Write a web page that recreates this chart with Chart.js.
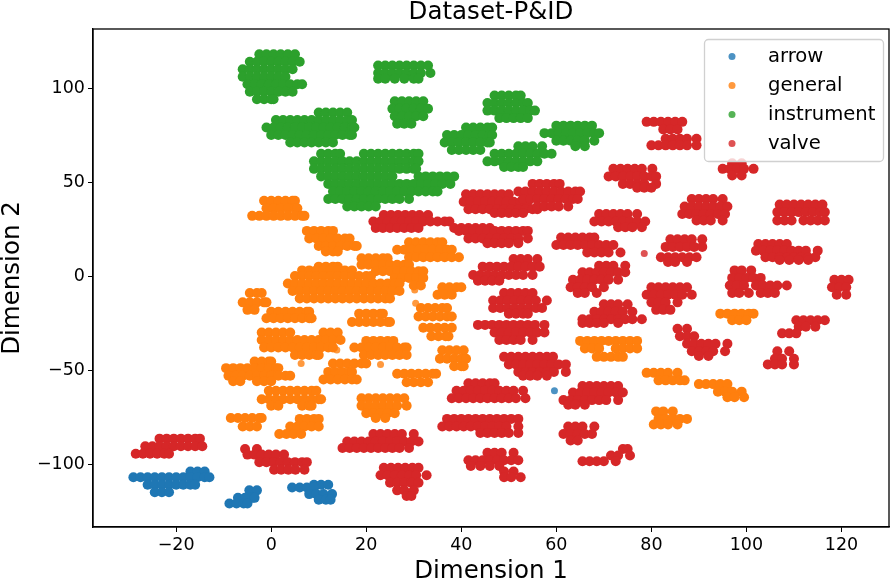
<!DOCTYPE html>
<html>
<head>
<meta charset="utf-8">
<script src="https://cdn.jsdelivr.net/npm/chart.js@4"></script>
<style>
  html, body { margin: 0; background: #fff; }
</style>
</head>
<body>
<canvas id="chart" width="894" height="584"></canvas>
<script>
// Each row is [dimension 2, then the dimension 1 values on that row]
const classNames = ["arrow", "general", "instrument", "valve"];
const classColors = ["#1f77b4", "#ff7f0e", "#2ca02c", "#d62728"];
const classFaded = ["rgba(31,119,180,0.8)", "rgba(255,127,14,0.8)", "rgba(44,160,44,0.8)", "rgba(214,39,40,0.8)"];

const arrowRows = [
  [-104,-17,-15.5,-14],
  [-107,-29,-27.5,-26,-24.5,-23,-21.5,-20,-18.5,-17,-15.5,-14,-13],
  [-111,-26,-24.5,-23,-21.5,-20,-18.5,-17,-16],
  [-115,-24.5,-23,-21.5],
  [-114,-4.6,-3],[-118,-7,-5.5,-4,-3.5],[-121,-8.8,-7.3,-5.8,-5],
  [-111,9,10.5,12],[-112.5,4.4,6,7.5,9],[-116,8,9.5,11,12.8],[-119,10,11.5,12.5]
];
const arrowStray = [[59.6,-61]];

const generalRows = [
  [40,-1.5,0,1.5,3,4.5,5],[36,-1,0.5,2,3.5,5,5.5],[32,-4,-2.5,-1,0.5,2,3.5,5,6.5,7],
  [24,7.5,9,10.5,12,13],[20,8,9.5,11,12.5,14,15.5,16.5],[16,10,11.5,13,14.5,16,17.5,18],[13,11.5,13,14],
  [18,29,30.5,32,33.5,35,36],[14,26.5,28,29.5,31,32.5,34,35.5,37,38],[10,29,30.5,32,33.5,35,36.5,38,39.5],
  [9.5,19,20.5,22,23.5,24.5],[6,19,20.5,22,23.5,25,26.5,28,29],[2.5,22,23.5,25,26.5,28,29.5,31,32],[-1,26,27.5,29,30.5,32],[-5,30,31.5],
  [5,10,11.5,13,14],[3,6.5,8,9.5,11,12.5,14,15.5,17],[0,5,6.5,8,9.5,11,12.5,14,15.5,17,18.5,20,21],
  [-4,3.5,5,6.5,8,9.5,11,12.5,14,15.5,17,18.5,20,21.5,23,24.5,26,27],
  [-8,4.5,6,7.5,9,10.5,12,13.5,15,16.5,18,19.5,21,22.5,24,25.5,27],
  [-12,6,7.5,9,10.5,12,13.5,15,16.5,18,19.5,21,22.5,24,25],
  [-6,36,37.5,39,40],[-10,35,36.5,38],
  [-9,-4.5,-3,-2],[-14,-6,-4.5,-3,-1.5,-1],[-18,-5,-3.5],
  [-19,0,1.5,3,4.5,6,7.5,8],[-22.5,-1,0.5,2,3.5,5,6.5,8,8.5],
  [-20,18.5,20,21.5,23,23.5],[-24.5,17,18.5,20,21.5,23,24.5,25],
  [-17,31.5,33,34.5,36,37],[-21.5,31,32.5,34,35.5,37,38],
  [-27.5,32,33.5,35,36.5,38],[-32,33.7,35.2,36.7,37.3],
  [-30,-2,-0.5,1,2.5,4,11,12.5,14],[-34,-2,-0.5,1,2.5,4,5.5,7,8.5,10,11.5,13,14.6],[-38,-1.5,0,1.5,3,4.5,6,7.5,9,10.5,12,13],[-42,5,6.5,8,9.5,10],
  [-34.5,20,21.5,23,24.5,25.7],[-38,17.5,19,20.5,22,23.5,25,26.5,28,28.5],[-42,19.5,21,22.5,24,25.5,27,28.5],
  [-39.5,36,37.5,39,40.5],[-44,35.5,37,38.5,40,41],[-48,38.5,40,40.5],
  [-45.5,-3.5,-2,-0.5,0],[-49,-9.5,-8,-6.5,-5,-3.5,-2,-0.5,1,1.5],[-53,-9,-7.5,-6,-4.5,-3,-1.5,0,1.5,3,4],[-56,-8,-6.5,-3,-1.5,0],
  [-46.5,13,14.5,16,17.5,19,20],[-51,12,13.5,15,16.5,17],[-55,11,12.5,14,15.5,17,18],
  [-52,26.5,28,29.5,31,32.5,34,34.7],[-56.5,28.5,30,31.5,33],
  [-61,-0.5,1,2.5,4,5.5,7,8.5,9.5],[-65.5,-2,-0.5,1,2.5,4,5.5,7,8.5,10,10.5],[-69,0,1.5,6.5,8,8.5],
  [-65,19,20.5,22,23.5,25,26.5,28],[-69,19,20.5,22,23.5,25,26.5,28.5],[-73,20,21.5,23,24.5,26],[-75.5,22,24],
  [-75.5,-8.5,-7,-5.5,-4,-2.5,-2],[-80,-6,-4.5,-3],
  [-76,6,7.5,9,10],[-80,4,5.5,7,8.5,10],[-84,1.7,3.2,4.7,6.3],
  [-34.5,65,66.5,68,69.5,71,72.5,74,75.5,77],[-38.5,66,67.5,69,72.5,74,75.5,77],[-43,68.5,70,71.5,73,74],
  [-20,94.5,96,97.5,99,100.5,101.5],[-23.5,97,98.5,100],
  [-51.5,79,80.5,82,83.5,85.5],[-55.5,81.5,83,84.5,86,87],
  [-57.5,90,91.5,93,94.5,96],[-61.5,94,95.5,97,99],[-64.5,96,97.5,99.5],
  [-72,81,82.5,84.5],[-76,81.5,83,84.5,86,87.5],[-79,80.5,82,83.5,85.5]
];
const generalStray = [[30.2,-7.4],[30.4,-14.5],[13.8,-39.4],[6.3,-46.5],[23,-47]];

const instrumentRows = [
  [118,-2.5,-1,0.5,2,3.5,5],[114,-4.5,-3,-1.5,0,1.5,3,4.5,6],[110,-6,-4.5,-3,-1.5,0,1.5,3,4.5],[106,-6,-4.5,-3,-1.5,0,1.5,3],
  [102,-5,-3.5,-2,-0.5,1,2.5,4,5.5,6.5],[98,-4.5,-3,-1.5,0,1.5,3,4.5],[94,-3,-1.5,0,0.5],
  [112,22.5,24,25.5,27,28.5,30,31.5,33],[108,22.5,24,25.5,27,28.5,30,31.5,33.5],[105,22.5,24,26,28,30,31],
  [93,26,27.5,29,30.5,32],[89,25.5,27,28.5,30,31.5,33],[85,26,27.5,29,30.5,32],[81,26.5,28,29.5],
  [87,10,11.5,13,14.5,16],[83,1,2.5,4,5.5,7,8.5,10,11.5,13,14.5,16,17],[79,-1,0.5,2,3.5,5,6.5,8,9.5,11,12.5,14,15.5,17,17.5],
  [75,0,1.5,3,4.5,6,7.5,9,10.5,12,13.5,15,16.5,17],[71,4,5.5,7,8.5,10,11.5,13],
  [65,10.5,12,13.5,14.5,19.5,21,22.5,24,25.5,27,28.5,30,31],
  [61,9,10.5,12,13.5,15,16.5,18,19.5,21,22.5,24,25.5,27,28.5,30,31],
  [57,9,10.5,12,13.5,15,16.5,18,19.5,21,22.5,24,25.5,27,28.5,30,30.5],
  [53,10.5,12,13.5,15,16.5,18,19.5,21,22.5,24,25.5,31,32.5,34,35.5,37,38.5],
  [49,12,13.5,15,16.5,18,19.5,21,22.5,24,25.5,27,28.5,30,31.5,33,34.5,36,37.7],
  [45,13,14.5,16,17.5,19,20.5,22,23.5,25,26.5,28,29.5,31,32.5,34,35],
  [41,12,13.5,15,16.5,18,19.5,21,22.5,24,25.5,27,29],[37,16,17.5,19,20.5,22],
  [79,41,42.5,44,45.5,46.5],[75,37,38.5,40,41.5,43,44.5,46,46.5],[71,36.5,38,39.5,41,42.5,44,45.5,46],[67,38,39.5,41,42.5,44],
  [96,47,48.5,50,51.5,52.5],[92,45.5,47,48.5,50,51.5,53,54],[88,45.5,47,48.5,50,51.5,53,54.5,55.5],[84,48,49.5,51,52.5,54],
  [69,52,53.5,55,57],[65,47,48.5,50,51.5,53,54.5,56,57.5,59],[61,45.5,47,48.5,50,51.5,53,54.5,56],[58,49,50.5,52,53],
  [80,60,61.5,63,64.5,66,67.5],[76,57.5,59,60.5,62,63.5,65,66.5,68,69],[72,60,61.5,63,64.5,66,68],[69,64,66]
];

const valveRows = [
  [32.5,23.7,25.2,26.7,28.2,29.7,31.2,33],[29,21.5,23,24.5,26,27.5,29,30.5,32,33.5,35,36.5,37.5],
  [25.5,22,23.5,25,26.5,28,29.5,31,38.5,40,41.5,43,44.5,46],[24,39.5,41,42.5,44,45.5,47,48.5,50,51.5,53,54],
  [20,41.5,43,44.5,46,47.5,49,50.5,52,54],[17.5,45.5,47,48.5,50,52],
  [43.5,41,42.5,44,45.5,47,48.5,50],[39.5,40.5,42,43.5,45,46.5,48,49.5,51,52.5,54],[35.5,41.5,43,44.5,46,47.5,49,50.5,52,53.5,55,56],[33.5,47,48.5,50,51.5,53],
  [49,55,56.5,58,59.5,60.7],[45,52,53.5,55,56.5,58,59.5,61,62.5,64,65],[41,53,54.5,56,57.5,59,60.5,62,63.5,64.5],[37,56,57.5,59,60.5,62.5],
  [82,79,80.5,82,83.5,85,86.5],[78,82.5,84,85.5],[73,83,84.5,86,87.5,89.5],[69.5,80,81.5,83,84.5,86,87.5,89.5],
  [57,72,73.5,75,76.5,78,80.2],[53,71,72.5,74,75.5,77,78.5,80,81],[49,74,75.5,77,78.5,81],[47,77,78.5,80],
  [60,97,99],[57,95,96.5,98,99.5,101.5],[53.5,97,99],
  [41,88.5,90,91.5,93,95],[37,87,88.5,90,91.5,93,94.5,96],[33,86.5,88,89.5,91,92.5,94,95.5],[29.5,89.5,91,92.5,95],
  [38,107,108.5,110,111.5,113,114.5,116],[34,106.5,108,109.5,111,112.5,114,115.5,116.5],[29.5,106.5,108,109.5,112,113.5,115,116.5],
  [33,69,70.5,72,73.5,75,77],[29,68,69.5,71,72.5,74,75.5,77,78.7],[26,73,74.5,76,78],
  [20.5,61,62.5,64,65.5,67,68],[16.5,60,61.5,63,64.5,66,67.5,69,70.5,72],[12.5,66.5,68,69.5,71,73.5],
  [9,51,52.5,54,56],[5,44.5,46,47.5,49,50.5,52,53.5,55,56.5],[0.5,42.5,44,45.5,47,48.5,50,51.5,53,55],[-2.5,43.5,45,46.5,48],
  [5.5,69,70.5,72,74.5],[2,65.5,67,68.5,70,71.5,73,74.5],[-2,63.5,65,66.5,68,69.5,71,73],[-6,63,64.5,66,67.5,70],[-9,64.5,66,68.5],
  [19.5,84,85.5,87,88.5,90.7],[15.5,83,84.5,86,87.5,89,90.7],[10,82,83.5,85,86.5,88,89.5],[7.5,83.5,85,87.5],
  [17,102.5,104,105.5,107,108.5],[13.5,102,103.5,105,106.5,108,109.5,111,112.5,115],[10,104,105.5,107,108.5,110,111.5,113,114.5],[8.5,107,109,111,113],
  [3,97.5,99,101],[-1,97,98.5,100,101.5,103],[-5,96.5,98,99.5,102,103.5,105,106.5,108.5],[-9,97,98.5,100.5,103,104.5,106],
  [-2,118.5,120,121.5],[-6,118,119.5,121],[-10,119,121],
  [-9,49,50.5,52,53.5,55],[-13,46.7,48.2,49.7,51.2,52.7,54.2,55.7,58],[-17,46.7,48.2,49.7,51.2,52.7,54.2,55.7,57],[-20,50,51.5,53,54],
  [-26,43.5,45,46.5,48,49.5,51,52.5,54,55.5,57.5],[-30,47,48.5,50,51.5,53,54.5,56,57.5],[-34,48,49.5,51,52.5,55],
  [-15,70,71.5,73,75],[-19,68,69.5,71,72.5,74,76],[-23,65.5,67,68.5,70,71.5,73,74.5,76,78],[-25,65.5,67,68.5,70,73],
  [-6,80,81.5,83,84.5,86,87.5],[-10,79,80.5,82,83.5,85,86.5,88.5],[-14,80,81.5,83,85.5],[-18,81,82.5,84],
  [-28,85.5,87.5],[-32,86,87.5,89],[-36,87.5,89,90.5,92,93.5,96],[-40,88.5,90,91.5,93,95.5],[-42.5,90,92],
  [-23.5,110.5,112,113.5,115,116.5],[-27,111,112.5,114.5],[-30.5,107.5,109,110.5],
  [-40,106.5,109],[-44,106,107.5,110],[-47,104.5,106,107.5,110],
  [-43,49,50.5,52,53.5,55,56.5,58,59.3],[-47,50,51.5,53,54.5,56,57.5,59,60.5,62],[-51,52,53.5,55,56.5,58,59.5,62],[-53,53,54.5,56,58],
  [-58.5,65.5,67,68.5,70,71.5,73],[-62,63.5,65,66.5,68,69.5,71,72.5,74],[-66,61.5,63,64.5,66,67.5,69,70.5,73],[-68.5,62.5,64,66],
  [-57,41.5,43,44.5,46,47],[-61,39,40.5,42,43.5,45,46.5,48,49.5,51,53],[-65,38,39.5,41,42.5,44,45.5,47,48.5,50,51.5,53.5],
  [-76,37,38.5,40,41.5,43,44.5,46,47.5,49,50.5,52],[-80,36,37.5,39,40.5,42,43.5,45,46.5,48,49.5,52],[-83.5,44,45.5,47,48.5,50,52],
  [-80,62.5,64,65.5,68],[-84,61.5,63,64.5,66,67.5],[-87.5,63,64.5],
  [-92,74,75],[-95.5,71.5,73,75.5],[-98.5,65.5,67,68.5,70,72.5],
  [-94,45.5,47,48.5,51],[-98,41.5,43,44.5,46,47.5,49,50.5,52],[-101,42,44,46,48],[-104,49,51],[-107,49,50.5,52.5],
  [-84,21.5,23,24.5,26,27.5,30],[-88,16,17.5,19,20.5,22,23.5,25,26.5,28,29.5,31],[-91.5,15,16.5,18,19.5,21,22.5,24,25.5,27,29],
  [-102,23.7,25.2,26.7,28.2,29.7,31],[-106,23,24.5,26,27.5,29,30.5,32.7],[-110,25,26.5,28,29.5,31],[-114,26.5,28,30],[-117,28.5,29.5],
  [-92,-5.5,-3],[-95,-5,-3.5,-2,-0.5,1,2.7],[-99,-2.5,-1,0.5,2,3.5,5,6.5,7.5],[-103,0.6,2.1,3.6,5.1,7],
  [-86.5,-23.5,-22,-20.5,-19,-17.5,-16,-15],[-90.5,-26.5,-25,-23.5,-22,-20.5,-19,-17.5,-16,-14.5],[-94.5,-28.5,-27,-25.5,-24,-22.5,-21.5]
];
const valveStray = [[78.5,12]];

const tickFont = { family: "'DejaVu Sans'", size: 17.5 };
const minusSign = (v) => String(v).replace("-", "\u2212");

function rowsToPoints(rows) {
  return rows.flatMap(([y, ...xs]) => xs.map((x) => ({ x, y })));
}
function pairsToPoints(pairs) {
  return pairs.map(([x, y]) => ({ x, y }));
}

const allRows = [arrowRows, generalRows, instrumentRows, valveRows];
const allStray = [arrowStray, generalStray, [], valveStray];

const datasets = [];
classNames.forEach((name, i) => {
  datasets.push({
    label: name,
    data: rowsToPoints(allRows[i]),
    backgroundColor: classColors[i],
    pointRadius: 5,
    pointBorderWidth: 0
  });
});
// single dots lying away from the blobs, these are drawn at the true marker size
classNames.forEach((name, i) => {
  datasets.push({
    label: name + " (single)",
    data: pairsToPoints(allStray[i]),
    backgroundColor: classFaded[i],
    pointRadius: 3.5,
    pointBorderWidth: 0
  });
});

// Frame round the axes and the boxed legend on top of the points
const frameAndLegend = {
  id: "frameAndLegend",
  afterDatasetsDraw(chart) {
    const { ctx, chartArea } = chart;
    ctx.save();
    ctx.strokeStyle = "#000";
    ctx.lineWidth = 1.3;
    ctx.strokeRect(chartArea.left, chartArea.top, chartArea.right - chartArea.left, chartArea.bottom - chartArea.top);

    ctx.beginPath();
    ctx.roundRect(704.5, 39.5, 179, 122, 4);
    ctx.fillStyle = "rgba(255,255,255,0.8)";
    ctx.fill();
    ctx.strokeStyle = "#d0d0d0";
    ctx.lineWidth = 1.3;
    ctx.stroke();

    ctx.font = "19.6px 'DejaVu Sans'";
    ctx.textBaseline = "middle";
    classNames.forEach((name, i) => {
      const rowY = 56.5 + i * 29;
      ctx.beginPath();
      ctx.arc(732, rowY, 3.5, 0, Math.PI * 2);
      ctx.fillStyle = classFaded[i];
      ctx.fill();
      ctx.fillStyle = "#000";
      ctx.fillText(name, 768, rowY);
    });
    ctx.restore();
  }
};

new Chart(document.getElementById("chart"), {
  type: "scatter",
  data: { datasets },
  plugins: [frameAndLegend],
  options: {
    responsive: false,
    animation: false,
    layout: { padding: { right: 1 } },
    plugins: {
      legend: { display: false },
      tooltip: { enabled: false },
      title: {
        display: true,
        text: "Dataset-P&ID",
        color: "#000",
        fullSize: false,
        font: { family: "'DejaVu Sans'", size: 24.5, weight: "normal", lineHeight: 1 },
        padding: { top: 0, bottom: 4.5 }
      }
    },
    scales: {
      x: {
        type: "linear",
        min: -37.5,
        max: 130,
        afterFit: (scale) => { scale.height = 57; },
        border: { color: "#000", width: 1.3 },
        grid: { drawOnChartArea: false, color: "#000", tickLength: 5 },
        ticks: { stepSize: 20, includeBounds: false, maxRotation: 0, color: "#000", font: tickFont, padding: 3, callback: minusSign },
        title: { display: true, text: "Dimension 1", color: "#000", font: { family: "'DejaVu Sans'", size: 24.5, lineHeight: 1 }, padding: 0 }
      },
      y: {
        type: "linear",
        min: -133.5,
        max: 131.4,
        afterFit: (scale) => { scale.width = 93; },
        border: { color: "#000", width: 1.3 },
        grid: { drawOnChartArea: false, color: "#000", tickLength: 5 },
        ticks: { stepSize: 50, includeBounds: false, color: "#000", font: tickFont, padding: 3, callback: minusSign },
        title: { display: true, text: "Dimension 2", color: "#000", font: { family: "'DejaVu Sans'", size: 24.5, lineHeight: 1 }, padding: 0 }
      }
    }
  }
});
</script>
</body>
</html>
